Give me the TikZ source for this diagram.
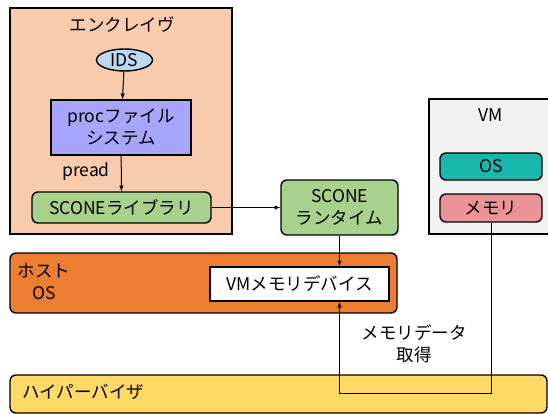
\documentclass[tikz,border=0pt]{standalone}
\usepackage{fontspec}
\setmainfont{Noto Sans CJK JP}
\usepackage{xcolor}
\usetikzlibrary{arrows,shapes.geometric}
\definecolor{enclavefill}{RGB}{248,203,173}
\definecolor{idsfill}{RGB}{189,215,238}
\definecolor{procfill}{RGB}{166,166,255}
\definecolor{sconefill}{RGB}{169,209,142}
\definecolor{vmfill}{RGB}{242,242,242}
\definecolor{osfill}{RGB}{24,185,172}
\definecolor{memfill}{RGB}{235,147,151}
\definecolor{hostfill}{RGB}{237,125,49}
\definecolor{hyperfill}{RGB}{255,217,102}
\tikzset{
	box/.style={draw, line width=1.4pt, inner sep=0pt, align=center},
	rbox/.style={box, rounded corners=6pt},
	link/.style={line width=1pt}
}

\begin{document}
\begin{tikzpicture}[x=1pt, y=-1pt, font=\fontsize{17.5}{22}\selectfont]
			\useasboundingbox (0,0) rectangle (548,414);
			% Enclave
			\node[box, fill=enclavefill, minimum width=222pt, minimum height=226pt] (enclave) at (121,121) {};
			\node (enclavelabel) at (122,25) {エンクレイヴ};
			\node[box, ellipse, fill=idsfill, minimum width=56pt, minimum height=22pt] (ids) at (124.5,60) {IDS};
			\node[box, fill=procfill, minimum width=140pt, minimum height=55pt] (proc) at (121,127.5) {procファイル\\システム};
			\node[rbox, fill=sconefill, minimum width=179pt, minimum height=31pt] (lib) at (121.5,207.5) {SCONEライブラリ};
			\node (pread) at (86,172) {pread};
			% SCONE runtime
			\node[rbox, fill=sconefill, minimum width=117pt, minimum height=55pt] (runtime) at (339.5,207.5) {SCONE\\ランタイム};
			% VM
			\node[box, fill=vmfill, minimum width=130pt, minimum height=135pt] (vm) at (494,166.5) {};
			\node (vmlabel) at (491,115) {VM};
			\node[rbox, fill=osfill, minimum width=102pt, minimum height=27pt] (os) at (491,166.5) {OS};
			\node[rbox, fill=memfill, minimum width=102pt, minimum height=28pt] (mem) at (491,208) {メモリ};
			% Hypervisor
			\node[rbox, fill=hyperfill, minimum width=537pt, minimum height=38pt] (hyper) at (278.5,394) {};
			\node[anchor=west] (hyperlabel) at (19,392) {ハイパーバイザ};
			% Host OS
			\node[rbox, fill=hostfill, minimum width=387pt, minimum height=60pt] (host) at (203.5,283) {};
			\node[align=center] (hostlabel) at (44,282) {ホスト\\OS};
			\node[box, fill=white, minimum width=179pt, minimum height=34pt] (dev) at (299.5,284) {VMメモリデバイス};
			\node[align=center] (getlabel) at (414,344) {メモリデータ\\取得};
			% Connectors
			\draw[link, -latex] (ids) -- (proc);
			\draw[link, -latex] (proc) -- (lib);
			\draw[link, -latex] (lib) -- (runtime);
			\draw[link, -latex] (runtime.south) -- (dev.north -| runtime.south);
			\coordinate (turn) at (491,393);
			\draw[link, -latex] (mem.south) -- (turn) -| (dev.south -| runtime.south);
		\end{tikzpicture}
\end{document}
